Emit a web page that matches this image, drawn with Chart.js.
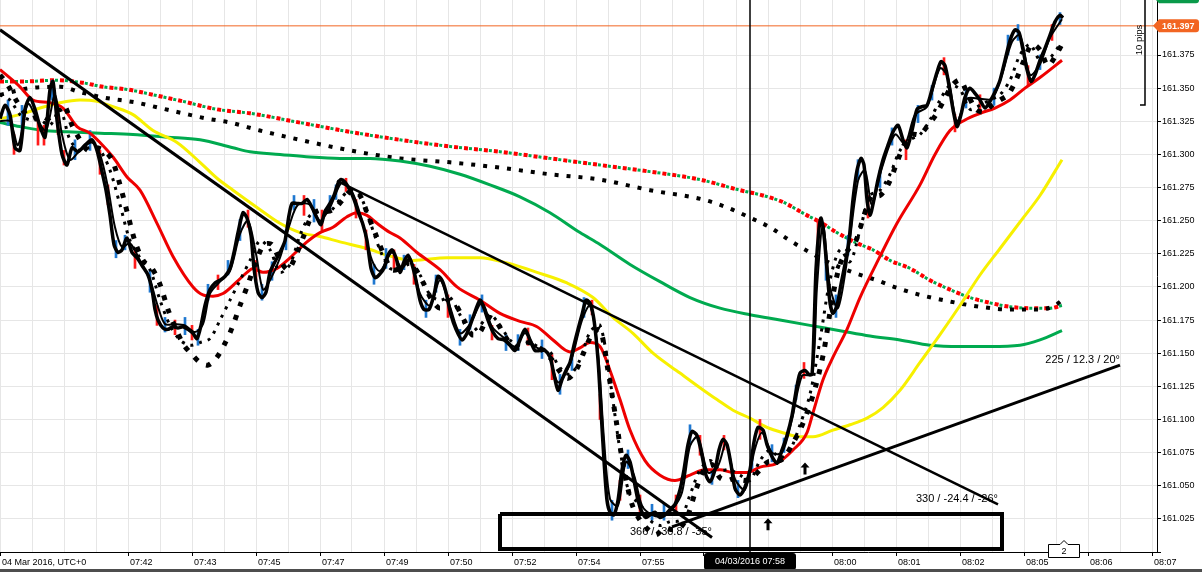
<!DOCTYPE html>
<html><head><meta charset="utf-8">
<script src="https://cdn.jsdelivr.net/npm/chart.js@4.4.1/dist/chart.umd.min.js"></script>
<style>html,body{margin:0;padding:0;background:#fff;overflow:hidden}canvas{display:block}</style>
</head><body>
<canvas id="c" width="1202" height="572"></canvas>
<script>
// ---- axis labels (x = tick-bar number, one label every 32 bars) ----
const xTickLabels = ['04 Mar 2016, UTC+0','','07:42','07:43','07:45','07:47','07:49','07:50','07:52','07:54','07:55','','','08:00','08:01','08:02','08:05','08:06','08:07'];

// ---- price (close) line : [bar, price] ----
const price = [[0,161.327],[2.5,161.337],[5,161.330],[7.5,161.305],[10,161.303],[12.5,161.334],[15,161.343],[17.5,161.334],[20,161.321],[22.5,161.313],[25,161.349],[26.5,161.355],[28.5,161.326],[31,161.300],[33.5,161.292],[36,161.305],[39,161.302],[42.5,161.307],[46,161.311],[48.5,161.303],[51,161.287],[53,161.273],[55,161.254],[57,161.232],[59,161.226],[61,161.228],[63.5,161.237],[66,161.226],[68.5,161.222],[71.5,161.215],[74,161.209],[76,161.198],[77.5,161.183],[79,161.175],[81.5,161.169],[84,161.168],[86.5,161.170],[89,161.169],[91.5,161.170],[94,161.168],[96.5,161.165],[98.5,161.161],[100.5,161.171],[102.5,161.186],[105,161.198],[107.5,161.203],[110,161.205],[112.5,161.208],[115,161.214],[117,161.226],[119,161.241],[121.5,161.256],[123.5,161.252],[125.5,161.239],[127,161.214],[129,161.196],[131,161.192],[133,161.196],[135,161.211],[137.5,161.219],[140,161.226],[142.5,161.235],[144.5,161.254],[146,161.263],[148.5,161.263],[151,161.263],[153.5,161.266],[156,161.260],[158.5,161.252],[160.5,161.247],[162.5,161.257],[165,161.263],[167,161.269],[169,161.278],[170.5,161.281],[172.5,161.279],[175,161.273],[177,161.266],[179,161.257],[181.5,161.247],[183.5,161.235],[185.5,161.214],[187.5,161.207],[189.5,161.209],[192,161.214],[194,161.224],[196,161.228],[198,161.222],[200,161.211],[202,161.219],[204,161.224],[206,161.217],[208,161.205],[210,161.190],[212,161.183],[214.5,161.183],[217,161.194],[219,161.208],[221,161.205],[223,161.196],[225.5,161.179],[228,161.168],[231,161.160],[233.5,161.165],[236.5,161.177],[240,161.190],[242,161.184],[244,161.175],[246.5,161.166],[249,161.161],[252,161.160],[255,161.156],[257.5,161.152],[260,161.160],[262.5,161.168],[265,161.160],[267.5,161.152],[270,161.152],[272.5,161.152],[275,161.147],[277,161.134],[279,161.122],[281,161.130],[283,161.137],[285,161.143],[287,161.156],[289,161.168],[291,161.179],[293,161.190],[295,161.188],[297,161.175],[299,161.145],[300.5,161.107],[302,161.069],[303.5,161.039],[305,161.030],[307,161.028],[309,161.039],[311,161.062],[313,161.073],[315,161.068],[317,161.054],[319,161.039],[321,161.030],[323,161.026],[325,161.028],[327.5,161.030],[330,161.026],[332.5,161.028],[335,161.032],[337.5,161.036],[340,161.047],[342,161.062],[344,161.081],[346,161.091],[348.5,161.088],[351,161.073],[353,161.058],[355,161.053],[357.5,161.062],[359.5,161.077],[361.5,161.085],[363.5,161.081],[365.5,161.066],[367.5,161.048],[370,161.043],[372.5,161.049],[375,161.062],[377,161.083],[379,161.094],[381.5,161.092],[383.5,161.081],[386,161.072],[388.5,161.067],[391,161.077],[393.5,161.088],[396,161.103],[398,161.121],[400,161.135],[402.5,161.137],[404.5,161.134],[406,161.134],[407,161.168],[408,161.213],[409.5,161.244],[410.5,161.252],[412,161.239],[413.5,161.213],[415,161.188],[416.5,161.180],[418.5,161.186],[420.5,161.202],[422.5,161.217],[424.5,161.235],[426.5,161.266],[428.5,161.288],[430.5,161.297],[432,161.292],[433.5,161.266],[435,161.254],[437,161.266],[439,161.281],[441.5,161.296],[444,161.307],[446.5,161.317],[449,161.322],[451.5,161.311],[453.5,161.305],[456,161.318],[458.5,161.334],[461,161.336],[463.5,161.337],[466,161.349],[468.5,161.362],[470.5,161.370],[472.5,161.367],[474.5,161.352],[476.5,161.334],[478.5,161.321],[480.5,161.330],[482.5,161.343],[485,161.350],[487.5,161.346],[490,161.341],[492.5,161.335],[495,161.340],[497.5,161.347],[500,161.356],[502.5,161.371],[505,161.386],[507.5,161.394],[509.5,161.392],[511.5,161.379],[513.5,161.364],[515.5,161.355],[517.5,161.360],[520,161.371],[522.5,161.380],[525,161.390],[527.5,161.400],[530,161.405],[531.5,161.403]];

// ---- second (fast) black line ----
const fastLine = [[0,161.325],[5,161.325],[9,161.307],[14,161.338],[19,161.325],[23,161.318],[27.5,161.345],[31,161.315],[35,161.296],[40,161.303],[46,161.309],[50,161.300],[54,161.275],[57.5,161.245],[61,161.230],[65,161.233],[70,161.220],[75,161.205],[79,161.185],[82.5,161.172],[87.5,161.172],[92.5,161.171],[97.5,161.166],[101.5,161.172],[105,161.195],[110,161.204],[115,161.212],[120,161.240],[124,161.250],[128,161.225],[131.5,161.198],[135,161.205],[140,161.222],[145,161.248],[149,161.262],[155,161.262],[160,161.250],[165,161.260],[171,161.279],[176,161.272],[181,161.250],[186,161.220],[190,161.212],[196,161.226],[201,161.214],[205,161.222],[210,161.195],[215,161.186],[220,161.205],[225,161.185],[230,161.165],[235,161.172],[241,161.188],[246,161.170],[252.5,161.161],[257.5,161.155],[262.5,161.165],[267.5,161.155],[274,161.150],[279,161.128],[285,161.142],[291,161.175],[295,161.186],[299,161.150],[302,161.085],[305,161.040],[309,161.035],[313,161.068],[317,161.058],[321,161.035],[326,161.028],[331,161.027],[336,161.032],[341,161.045],[345,161.080],[349,161.087],[354,161.060],[359,161.065],[363,161.082],[367.5,161.055],[372.5,161.047],[377.5,161.078],[381,161.090],[386,161.075],[391,161.075],[396,161.100],[401,161.133],[406,161.134],[408.5,161.200],[411.5,161.247],[415,161.200],[419,161.184],[424,161.225],[429,161.280],[432.5,161.288],[436,161.262],[441,161.290],[447.5,161.315],[452.5,161.308],[457.5,161.330],[463.5,161.336],[470,161.365],[474,161.358],[478.5,161.325],[483.5,161.342],[490,161.342],[496,161.342],[501,161.360],[506,161.385],[510,161.390],[515,161.360],[520,161.368],[525,161.388],[531,161.402]];

// ---- lagging dotted lines ----
const lagSlow = [[0,161.360],[4,161.352],[8,161.341],[12,161.332],[16,161.327],[20,161.330],[24,161.327],[28,161.332],[32,161.337],[36,161.322],[40,161.311],[44,161.303],[48,161.305],[52,161.303],[56,161.296],[60,161.277],[64,161.254],[68,161.232],[72,161.219],[76,161.214],[80,161.202],[84,161.183],[88,161.168],[92,161.156],[96,161.149],[100,161.143],[104,161.141],[108,161.146],[112,161.156],[116,161.169],[120,161.186],[124,161.202],[128,161.219],[132,161.232],[136,161.232],[140,161.220],[144,161.213],[148,161.224],[152,161.239],[156,161.254],[160,161.258],[164,161.257],[168,161.260],[172,161.267],[176,161.273],[180,161.269],[184,161.254],[188,161.239],[192,161.224],[196,161.213],[200,161.214],[204,161.219],[208,161.213],[212,161.202],[216,161.190],[220,161.184],[224,161.190],[228,161.186],[232,161.175],[236,161.164],[240,161.166],[244,161.177],[248,161.174],[252,161.164],[256,161.156],[260,161.154],[264,161.158],[268,161.156],[272,161.151],[276,161.145],[280,161.136],[284,161.131],[288,161.137],[292,161.151],[296,161.164],[300,161.168],[304,161.137],[308,161.100],[312,161.062],[316,161.036],[320,161.024],[324,161.017],[328,161.013],[332,161.018],[336,161.017],[340,161.018],[344,161.028],[348,161.047],[352,161.062],[356,161.066],[360,161.056],[364,161.054],[368,161.056],[372,161.054],[376,161.056],[380,161.062],[384,161.068],[388,161.068],[392,161.071],[396,161.081],[400,161.092],[404,161.107],[408,161.126],[412,161.152],[416,161.190],[420,161.217],[424,161.228],[428,161.235],[432,161.254],[436,161.269],[440,161.269],[444,161.277],[448,161.292],[452,161.307],[456,161.315],[460,161.315],[464,161.322],[468,161.330],[472,161.341],[476,161.352],[480,161.356],[484,161.345],[488,161.334],[492,161.332],[496,161.337],[500,161.341],[504,161.345],[508,161.356],[512,161.371],[516,161.383],[520,161.379],[524,161.367],[528,161.375],[532,161.386]];
const lagFast = [[0,161.345],[5,161.341],[10,161.330],[15,161.326],[20,161.326],[25,161.322],[30,161.334],[35,161.311],[40,161.303],[45,161.305],[50,161.303],[55,161.288],[60,161.262],[65,161.235],[70,161.222],[75,161.213],[80,161.190],[85,161.171],[90,161.160],[95,161.156],[100,161.158],[105,161.161],[110,161.175],[115,161.190],[120,161.205],[125,161.220],[130,161.235],[135,161.228],[140,161.211],[145,161.217],[150,161.239],[155,161.254],[160,161.258],[165,161.257],[170,161.266],[175,161.273],[180,161.269],[185,161.249],[190,161.228],[195,161.214],[200,161.214],[205,161.217],[210,161.209],[215,161.194],[220,161.190],[225,161.192],[230,161.179],[235,161.166],[240,161.171],[245,161.179],[250,161.171],[255,161.160],[260,161.156],[265,161.158],[270,161.154],[275,161.151],[280,161.139],[285,161.134],[290,161.145],[295,161.166],[300,161.171],[305,161.130],[310,161.077],[315,161.043],[320,161.036],[325,161.024],[330,161.020],[335,161.023],[340,161.024],[345,161.043],[350,161.062],[355,161.069],[360,161.062],[365,161.062],[370,161.058],[375,161.054],[380,161.069],[385,161.077],[390,161.071],[395,161.077],[400,161.096],[405,161.119],[410,161.160],[415,161.205],[420,161.228],[425,161.219],[430,161.243],[435,161.269],[440,161.273],[445,161.285],[450,161.303],[455,161.311],[460,161.315],[465,161.326],[470,161.341],[475,161.352],[480,161.349],[485,161.334],[490,161.337],[495,161.341],[500,161.345],[505,161.356],[510,161.375],[515,161.383],[520,161.371],[525,161.373],[530,161.383]];

// ---- moving averages ----
const maRed = [[0,161.364],[10,161.351],[16.5,161.341],[25,161.339],[31.5,161.335],[38.5,161.321],[45,161.316],[50,161.309],[56.5,161.298],[63.5,161.283],[70,161.273],[78.5,161.248],[86.5,161.223],[96.5,161.200],[101.5,161.194],[106.5,161.193],[111.5,161.195],[118.5,161.204],[123.5,161.211],[126.5,161.214],[131.5,161.211],[138.5,161.214],[145,161.222],[153.5,161.234],[160,161.241],[166.5,161.245],[173.5,161.253],[178.5,161.256],[183.5,161.254],[188.5,161.248],[195,161.241],[200,161.237],[208.5,161.226],[220,161.213],[228.5,161.200],[240,161.190],[250,161.180],[260,161.174],[268.5,161.170],[276.5,161.160],[285,161.151],[290,161.154],[295,161.158],[300,161.155],[305,161.137],[310,161.115],[315,161.092],[322.5,161.069],[330,161.058],[337.5,161.054],[345,161.058],[352.5,161.062],[360,161.062],[366.5,161.060],[373.5,161.060],[380,161.064],[388.5,161.067],[396.5,161.077],[403.5,161.090],[406.5,161.105],[411.5,161.130],[416.5,161.147],[423.5,161.168],[430,161.192],[440,161.223],[448.5,161.248],[460,161.277],[467.5,161.300],[475,161.318],[482.5,161.326],[490,161.331],[497.5,161.335],[505,161.341],[512.5,161.350],[520,161.358],[531,161.371]];
const maYellow = [[0,161.327],[10,161.330],[20,161.335],[30,161.339],[40,161.341],[48.5,161.340],[56.5,161.336],[66.5,161.330],[76.5,161.318],[88.5,161.309],[100,161.294],[108.5,161.282],[116.5,161.273],[128.5,161.260],[140,161.248],[150,161.241],[160,161.238],[170,161.234],[183.5,161.229],[193.5,161.224],[206.5,161.220],[223.5,161.222],[240,161.222],[253.5,161.218],[268.5,161.211],[283.5,161.203],[296.5,161.192],[306.5,161.177],[316.5,161.165],[326.5,161.150],[340,161.135],[350,161.124],[358.5,161.115],[366.5,161.107],[375,161.101],[383.5,161.094],[391.5,161.090],[400,161.087],[406.5,161.087],[416.5,161.092],[425,161.096],[433.5,161.101],[441.5,161.109],[450,161.122],[460,161.143],[470,161.164],[480,161.186],[490,161.209],[500,161.229],[510,161.249],[520,161.269],[531,161.296]];
const maGreen = [[0,161.324],[10,161.321],[21.5,161.318],[33.5,161.317],[50,161.316],[66.5,161.315],[83.5,161.313],[100,161.311],[116.5,161.305],[125,161.302],[140,161.300],[155,161.298],[170,161.297],[185,161.297],[200,161.295],[215,161.291],[230,161.285],[245,161.277],[260,161.268],[275,161.256],[290,161.241],[300,161.232],[315,161.217],[330,161.204],[345,161.192],[360,161.184],[375,161.179],[390,161.175],[405,161.171],[420,161.167],[435,161.163],[450,161.160],[465,161.156],[480,161.155],[495,161.155],[510,161.156],[520,161.160],[531,161.167]];
const dotsUpperRG = [[0,161.355],[11.5,161.355],[28.5,161.356],[41.5,161.354],[51.5,161.351],[63.5,161.349],[76.5,161.345],[91.5,161.340],[108.5,161.334],[125,161.331],[150,161.324],[175,161.317],[200,161.311],[225,161.306],[250,161.302],[275,161.297],[300,161.292],[325,161.287],[350,161.281],[370,161.273],[381.5,161.269],[391.5,161.264],[403.5,161.254],[410,161.249],[418.5,161.241],[428.5,161.233],[436.5,161.228],[445,161.220],[455,161.214],[465,161.205],[475,161.198],[485,161.192],[495,161.188],[505,161.185],[515,161.184],[525,161.184],[531,161.186]];
const dotsUpperBlack = [[0,161.345],[15,161.350],[30,161.351],[40,161.347],[51.5,161.343],[68.5,161.339],[80,161.335],[91.5,161.331],[103.5,161.327],[115,161.324],[130,161.318],[150,161.311],[175,161.303],[200,161.297],[225,161.294],[250,161.290],[275,161.285],[300,161.281],[325,161.273],[351.5,161.266],[363.5,161.260],[374,161.253],[385,161.245],[395,161.235],[405,161.226],[416.5,161.217],[426.5,161.211],[438.5,161.205],[449,161.199],[460,161.194],[475,161.189],[490,161.185],[505,161.183],[520,161.183],[527.5,161.186],[531,161.190]];

// ---- tick bars: [bar, low, high], direction ----
const candles = [[4,161.322,161.341],[7,161.300,161.315],[11,161.318,161.337],[19,161.307,161.326],[22,161.307,161.322],[26,161.341,161.356],[29,161.315,161.330],[32,161.292,161.303],[37.5,161.296,161.311],[45,161.303,161.318],[50,161.285,161.303],[54,161.262,161.277],[58,161.222,161.235],[62.5,161.228,161.239],[67.5,161.214,161.228],[75,161.196,161.213],[78.5,161.171,161.186],[82.5,161.166,161.177],[87.5,161.164,161.175],[92.5,161.164,161.177],[96,161.160,161.171],[99,161.156,161.168],[104,161.190,161.202],[109,161.198,161.209],[114,161.209,161.220],[120,161.235,161.251],[124,161.245,161.258],[128,161.205,161.220],[131,161.190,161.202],[136,161.205,161.219],[143,161.228,161.243],[147,161.258,161.269],[152,161.254,161.269],[157,161.249,161.266],[161,161.241,161.258],[165,161.258,161.269],[168,161.266,161.277],[173,161.272,161.282],[178,161.252,161.266],[183,161.228,161.243],[187,161.202,161.217],[193,161.214,161.229],[197,161.214,161.228],[202,161.213,161.224],[207,161.202,161.217],[213,161.177,161.190],[218,161.196,161.209],[224,161.177,161.194],[230,161.156,161.168],[235,161.168,161.179],[241,161.181,161.194],[246,161.160,161.171],[253,161.152,161.164],[259,161.152,161.164],[264,161.156,161.169],[271,161.146,161.160],[276,161.130,161.149],[280,161.119,161.134],[286,161.137,161.152],[292,161.177,161.192],[296,161.179,161.190],[300,161.100,161.119],[306,161.024,161.039],[310,161.039,161.054],[314,161.063,161.077],[320,161.028,161.043],[326,161.024,161.036],[332,161.024,161.036],[338,161.030,161.043],[345,161.081,161.096],[350,161.073,161.088],[356,161.051,161.062],[362,161.077,161.088],[369,161.041,161.054],[376,161.060,161.077],[380,161.085,161.100],[386,161.068,161.081],[392,161.075,161.086],[398,161.115,161.126],[402,161.131,161.143],[409,161.232,161.251],[413,161.205,161.224],[418,161.177,161.194],[424,161.224,161.239],[429,161.281,161.296],[434,161.252,161.269],[440,161.275,161.288],[446,161.307,161.320],[453,161.296,161.311],[459,161.324,161.337],[466,161.341,161.352],[472,161.360,161.373],[477.5,161.317,161.330],[483,161.335,161.349],[490,161.334,161.345],[497,161.337,161.350],[504,161.375,161.390],[509,161.386,161.398],[514,161.352,161.367],[520,161.364,161.375],[526,161.386,161.398],[530,161.398,161.407]];
const candleDir = ['up','dn','up','dn','dn','up','dn','dn','up','up','dn','dn','up','up','dn','up','dn','up','dn','up','dn','up','up','dn','up','up','dn','dn','up','up','up','up','dn','up','dn','up','up','dn','dn','dn','up','up','dn','up','dn','up','up','dn','up','up','up','dn','up','up','dn','up','dn','up','up','up','dn','dn','up','dn','up','dn','up','up','dn','up','dn','up','dn','up','up','dn','up','up','up','dn','dn','up','up','up','up','dn','up','up','dn','up','up','dn','dn','up','dn','up','up','up','dn','up','dn','up'];

// ---- drawing objects (trend lines, box, marks) ----
const trendA = [[0,161.394],[356,161.011]];
const trendB = [[168.5,161.280],[499,161.036]];
const trendC = [[336,161.019],[560,161.141]];
const trendLabels = ['366 / -30.8 / -35°','330 / -24.4 / -26°','225 / 12.3 / 20°'];
const boxBars = [250, 501];
const boxPrices = [161.0023, 161.0287];
const arrowMarks = [[402.5,161.063],[384,161.021]];
const crossBar = 375;
const crossLabel = '04/03/2016 07:58';
const lastPrice = 161.397;
const askPrice = 161.419;
const markerBar = 532;
const markerText = '2';
const pipsText = '10 pips';

const FONT = '"Liberation Sans", Arial, sans-serif';
Chart.defaults.font.family = FONT;
Chart.defaults.font.size = 9;
Chart.defaults.color = '#000';

function ln(data, color, width, order, extra) {
  return Object.assign({type:'line', data, borderColor:color, backgroundColor:color, borderWidth:width,
    pointRadius:0, pointHoverRadius:0, fill:false, tension:0, order}, extra || {});
}

const yTop = 161.4165, yBot = 161.0, xMax = 578.5;
const T = trends = [trendA, trendB, trendC];

const datasets = [
  ln([[boxBars[0],boxPrices[1]],[boxBars[1],boxPrices[1]],[boxBars[1],boxPrices[0]],[boxBars[0],boxPrices[0]],[boxBars[0],boxPrices[1]]], '#000', 4, 0, {borderJoinStyle:'miter'}),
  ln([[crossBar,yBot],[crossBar,yTop]], '#000', 1.5, 1),
  ln(trendA, '#000', 3, 2),
  ln(trendB, '#000', 2.5, 2),
  ln(trendC, '#000', 3, 2),
  ln(price, '#000', 3.5, 3, {tension:0.25}),
  ln(fastLine, '#000', 2, 4, {tension:0.3}),
  ln(lagSlow, '#000', 5, 5, {borderDash:[5,9], tension:0.3}),
  ln(lagFast, '#000', 3, 6, {borderDash:[3,6], tension:0.3}),
  ln(maRed, '#ee0000', 3, 7, {cubicInterpolationMode:'monotone'}),
  {type:'bar', data: candles.map(c => ({x:c[0], y:[c[1], c[2]]})), backgroundColor: candleDir.map(d => d === 'up' ? '#1f78d0' : '#ff1a1a'),
   barThickness:2, grouped:false, order:8, borderWidth:0},
  ln(maYellow, '#f7f000', 3, 9, {cubicInterpolationMode:'monotone'}),
  ln(maGreen, '#00aa4f', 3, 10, {cubicInterpolationMode:'monotone'}),
  ln(dotsUpperBlack, '#000', 4, 11, {borderDash:[4,8], cubicInterpolationMode:'monotone'}),
  ln(dotsUpperRG, '#ff0000', 4, 12, {borderDash:[4,6], cubicInterpolationMode:'monotone'}),
  ln(dotsUpperRG, '#00aa4f', 3, 13, {borderDash:[3,7], borderDashOffset:5, cubicInterpolationMode:'monotone'}),
  ln([[0,lastPrice],[xMax,lastPrice]], '#f26522', 1, 14)
];

function rrect(ctx, x, y, w, h, r) {
  ctx.beginPath();
  ctx.moveTo(x+r, y); ctx.lineTo(x+w-r, y); ctx.quadraticCurveTo(x+w, y, x+w, y+r);
  ctx.lineTo(x+w, y+h-r); ctx.quadraticCurveTo(x+w, y+h, x+w-r, y+h);
  ctx.lineTo(x+r, y+h); ctx.quadraticCurveTo(x, y+h, x, y+h-r);
  ctx.lineTo(x, y+r); ctx.quadraticCurveTo(x, y, x+r, y); ctx.closePath();
}

const overlay = {
  id:'overlay',
  beforeDatasetsDraw(chart) {
    const {ctx, scales:{x, y}} = chart;
    ctx.save();
    ctx.font = '11px ' + FONT;
    ctx.fillStyle = '#000'; ctx.textAlign = 'right'; ctx.textBaseline = 'middle';
    trends.forEach((t, i) => {
      const e = t[1];
      ctx.fillText(trendLabels[i], x.getPixelForValue(e[0]), y.getPixelForValue(e[1]) - 5);
    });
    ctx.restore();
  },
  afterDraw(chart) {
    const {ctx, chartArea:a, scales:{x, y}} = chart;
    ctx.save();
    // up arrows
    ctx.fillStyle = '#000';
    arrowMarks.forEach(m => {
      const px = Math.round(x.getPixelForValue(m[0])), py = y.getPixelForValue(m[1]);
      ctx.beginPath();
      ctx.moveTo(px, py-6); ctx.lineTo(px+4.5, py-1); ctx.lineTo(px+1.5, py-1); ctx.lineTo(px+1.5, py+6);
      ctx.lineTo(px-1.5, py+6); ctx.lineTo(px-1.5, py-1); ctx.lineTo(px-4.5, py-1); ctx.closePath(); ctx.fill();
    });
    // crosshair time label
    const cx = x.getPixelForValue(crossBar);
    ctx.fillStyle = '#000';
    rrect(ctx, cx-46, a.bottom+1, 92, 17, 3); ctx.fill();
    ctx.fillStyle = '#fff'; ctx.font = '9px ' + FONT; ctx.textAlign = 'center'; ctx.textBaseline = 'middle';
    ctx.fillText(crossLabel, cx, a.bottom+10);
    // marker "2"
    const mx = x.getPixelForValue(markerBar);
    ctx.fillStyle = '#fff'; ctx.strokeStyle = '#000'; ctx.lineWidth = 1;
    ctx.beginPath();
    const bt = a.bottom-7.5, bb = a.bottom+5.5, bl = Math.round(mx)-15.5, br = Math.round(mx)+15.5;
    ctx.moveTo(bl, bt); ctx.lineTo(mx-4, bt); ctx.lineTo(mx, bt-4); ctx.lineTo(mx+4, bt); ctx.lineTo(br, bt);
    ctx.lineTo(br, bb); ctx.lineTo(bl, bb); ctx.closePath(); ctx.fill(); ctx.stroke();
    ctx.fillStyle = '#000'; ctx.fillText(markerText, mx, (bt+bb)/2 + 0.5);
    // price tags on the right axis
    function tag(val, color) {
      const py = y.getPixelForValue(val);
      const l = a.right - 4, r = a.right + 42, h = 6.5;
      ctx.fillStyle = color;
      ctx.beginPath(); ctx.moveTo(l, py); ctx.lineTo(l+6, py-h); ctx.lineTo(r-3, py-h);
      ctx.quadraticCurveTo(r, py-h, r, py-h+3); ctx.lineTo(r, py+h-3); ctx.quadraticCurveTo(r, py+h, r-3, py+h);
      ctx.lineTo(l+6, py+h); ctx.closePath(); ctx.fill();
      ctx.fillStyle = '#fff'; ctx.font = 'bold 9px ' + FONT; ctx.textAlign = 'left'; ctx.textBaseline = 'middle';
      ctx.fillText(val.toFixed(3), l+9, py+0.5);
    }
    tag(askPrice, '#0a9a4a');
    tag(lastPrice, '#f26522');
    // pips ruler
    ctx.strokeStyle = '#000'; ctx.lineWidth = 1.5;
    ctx.beginPath(); ctx.moveTo(a.right-12, 0); ctx.lineTo(a.right-12, 105); ctx.lineTo(a.right-17, 105); ctx.stroke();
    ctx.save(); ctx.translate(a.right-18, 40); ctx.rotate(-Math.PI/2);
    ctx.fillStyle = '#000'; ctx.font = '9.5px ' + FONT; ctx.textAlign = 'center'; ctx.textBaseline = 'middle';
    ctx.fillText(pipsText, 0, 0); ctx.restore();
    // bottom frame strip
    ctx.fillStyle = '#4d4d4d'; ctx.fillRect(0, chart.height-3, chart.width, 3);
    ctx.restore();
  }
};

new Chart(document.getElementById('c'), {
  type:'line',
  data:{datasets},
  options:{
    responsive:false, animation:false, devicePixelRatio:1, events:[],
    layout:{padding:0},
    plugins:{legend:{display:false}, tooltip:{enabled:false}},
    scales:{
      x:{type:'linear', position:'bottom', min:0, max:xMax, offset:false,
        grid:{color:'#e6e6e6', lineWidth:1, offset:false, tickLength:4,
          tickColor: c => (c.tick && c.tick.value % 32 === 0 && c.tick.value !== 32) ? '#000' : 'rgba(0,0,0,0)'},
        border:{display:true, color:'#000', width:1},
        ticks:{stepSize:16, autoSkip:false, maxRotation:0, minRotation:0, includeBounds:false, align:'start', labelOffset:2, padding:1,
          color:'#000', font:{size:9},
          callback: v => (v % 32 === 0) ? (xTickLabels[v/32] || '') : ''},
        afterFit: s => { s.height = 20; s.paddingLeft = 0; s.paddingRight = 0; s.paddingTop = 0; s.paddingBottom = 0; }
      },
      y:{type:'linear', position:'right', min:yBot, max:yTop,
        grid:{color: c => (c.tick && c.tick.value > 161.39) ? 'rgba(0,0,0,0)' : '#e6e6e6', lineWidth:1, tickLength:4, tickColor:'#000'},
        border:{display:true, color:'#000', width:1},
        ticks:{stepSize:0.025, includeBounds:false, padding:1, color:'#000', font:{size:9},
          callback: v => (v > 161.01 && v < 161.39) ? Number(v).toFixed(3) : ''},
        afterFit: s => { s.width = 45; s.paddingLeft = 0; s.paddingRight = 0; s.paddingTop = 0; s.paddingBottom = 0; }
      }
    }
  },
  plugins:[overlay]
});
</script>
</body></html>
